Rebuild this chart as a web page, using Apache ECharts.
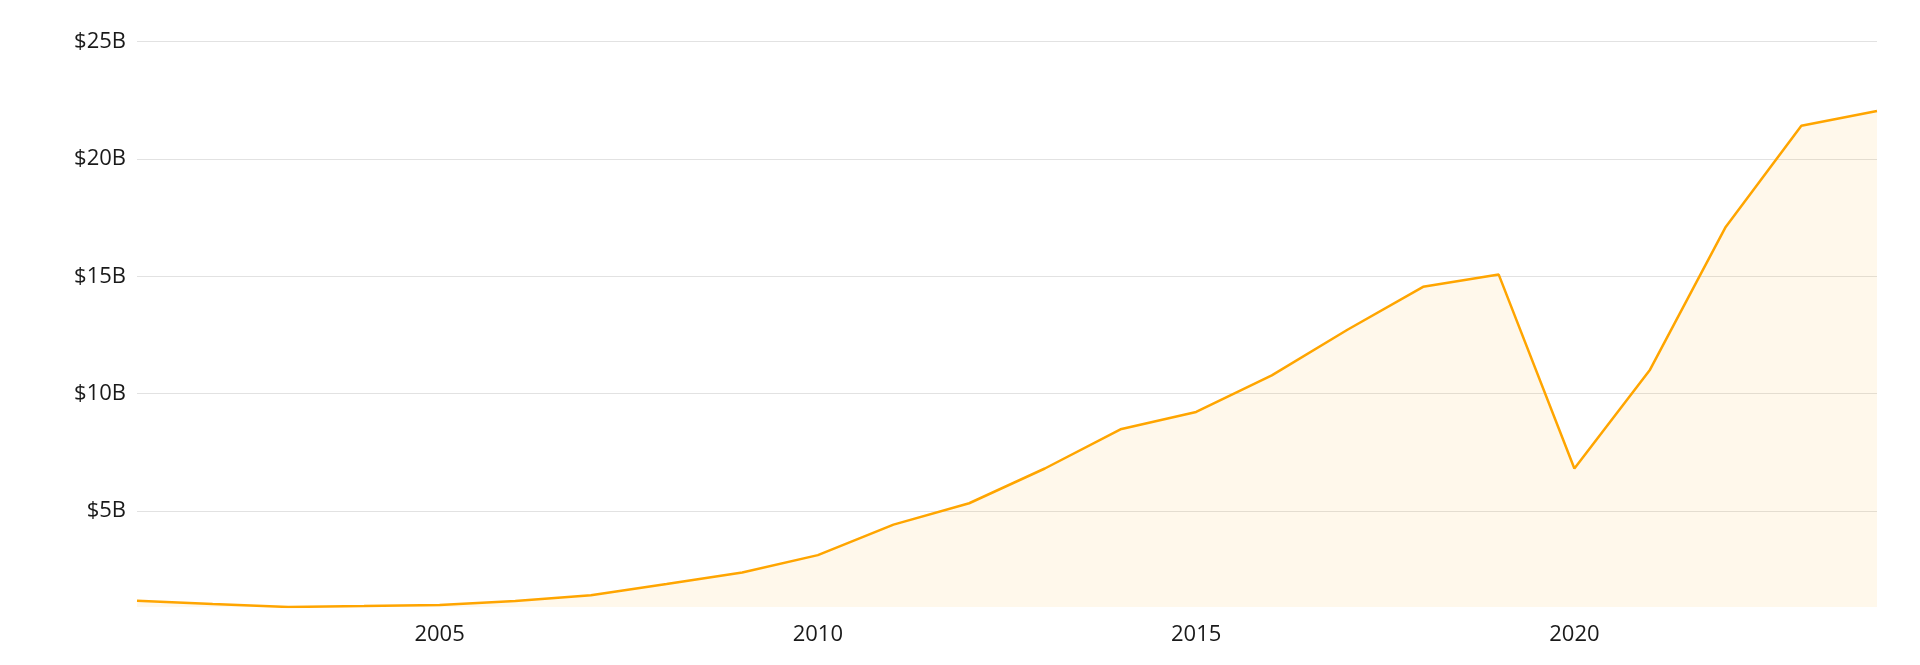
<!DOCTYPE html>
<html>
<head>
<meta charset="utf-8">
<script src="https://cdn.jsdelivr.net/npm/echarts@6/dist/echarts.min.js"></script>
<style>
  html, body { margin: 0; padding: 0; background: #fff; }
  #chart { width: 1920px; height: 665px; }
</style>
</head>
<body>
<div id="chart"></div>
<script>
// Data (values in billions of USD)
const years = ['2001','2002','2003','2004','2005','2006','2007','2008','2009','2010','2011','2012',
               '2013','2014','2015','2016','2017','2018','2019','2020','2021','2022','2023','2024'];
const revenue = [1.18, 1.04, 0.91, 0.95, 1.00, 1.17, 1.41, 1.89, 2.38, 3.12, 4.42, 5.33,
                 6.81, 8.48, 9.22, 10.78, 12.72, 14.55, 15.07, 6.81, 11.02, 17.10, 21.41, 22.04];
const yTickValues = [5, 10, 15, 20, 25];
const xLabelYears = ['2005', '2010', '2015', '2020'];

const chart = echarts.init(document.getElementById('chart'), null, { renderer: 'canvas' });
const fontFamily = '"Open Sans", "Noto Sans", sans-serif';

chart.setOption({
  animation: false,
  backgroundColor: '#ffffff',
  grid: { left: 137, right: 43, top: 41.5, bottom: 58, containLabel: false },
  xAxis: {
    type: 'category',
    data: years,
    boundaryGap: false,
    axisLine: { show: false },
    axisTick: { show: false },
    splitLine: { show: false },
    axisLabel: {
      interval: (idx, val) => xLabelYears.includes(val),
      margin: 17,
      fontSize: 22,
      color: '#1a1a1a',
      fontFamily: fontFamily
    }
  },
  yAxis: {
    type: 'value',
    min: 'dataMin',
    max: 25,
    splitNumber: 5,
    axisLine: { show: false },
    axisTick: { show: false },
    splitLine: { show: true, showMinLine: false, lineStyle: { color: '#e2e2e2', width: 1 } },
    axisLabel: {
      margin: 11,
      align: 'right',
      fontSize: 22,
      color: '#1a1a1a',
      fontFamily: fontFamily,
      showMinLabel: false,
      formatter: (v) => yTickValues.includes(Math.round(v * 1000) / 1000) ? '$' + v + 'B' : ''
    }
  },
  series: [{
    type: 'line',
    data: revenue,
    symbol: 'none',
    smooth: false,
    lineStyle: { color: '#FFA500', width: 2.5 },
    itemStyle: { color: '#FFA500' },
    areaStyle: { color: 'rgba(255,165,0,0.11)', origin: 'start' }
  }]
});
</script>
</body>
</html>
